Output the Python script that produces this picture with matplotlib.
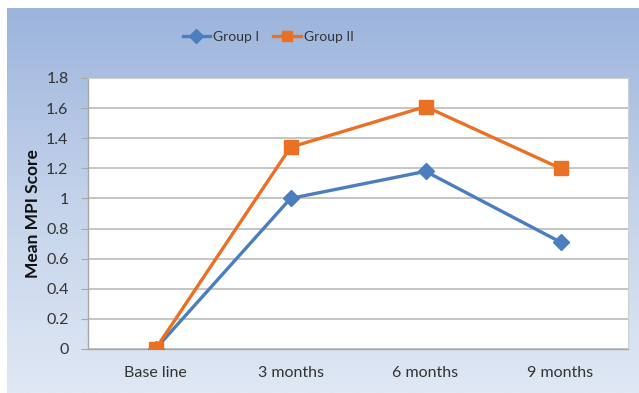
import numpy as np
import matplotlib
matplotlib.use("Agg")
import matplotlib.pyplot as plt
from matplotlib.colors import LinearSegmentedColormap
from matplotlib.ticker import FuncFormatter

# follow-up points and mean MPI score for each group
timepoints = ["Base line", "3 months", "6 months", "9 months"]
group_1 = [0, 1.0, 1.18, 0.71]
group_2 = [0, 1.34, 1.61, 1.2]
y_ticks = [0, 0.2, 0.4, 0.6, 0.8, 1, 1.2, 1.4, 1.6, 1.8]

plt.rcParams['font.family'] = ['Lato', 'DejaVu Sans']

W, H = 639, 393
fig = plt.figure(figsize=(W / 100, H / 100), dpi=100, facecolor='white')

# blue gradient panel behind the chart
bg = fig.add_axes([7 / W, 0, (W - 7) / W, (H - 8) / H], zorder=-1)
grad = np.linspace(0, 1, 256).reshape(-1, 1)
cmap = LinearSegmentedColormap.from_list('panel', ['#9cb4dc', '#c4d3eb', '#dfe8f4'])
bg.imshow(grad, aspect='auto', cmap=cmap, extent=[0, 1, 0, 1])
bg.set_axis_off()

ax = fig.add_axes([88 / W, 1 - 349 / H, (628 - 88) / W, (349 - 78) / H])
ax.set_facecolor('white')

x = np.arange(len(timepoints))
ax.plot(x, group_1, color='#4a7ebf', lw=2.4, marker='D', ms=8.5, label='Group I', zorder=3)
ax.plot(x, group_2, color='#ea7024', lw=2.4, marker='s', ms=9.5, label='Group II', zorder=3)

ax.set_xlim(-0.5, len(timepoints) - 0.5)
ax.set_ylim(0, 1.8)
ax.set_xticks(x)
ax.set_xticklabels(timepoints)
ax.set_yticks(y_ticks)
ax.yaxis.set_major_formatter(FuncFormatter(lambda v, p: '%g' % v))
ax.grid(axis='y', color='#b5b5b5', lw=1.1)
ax.set_axisbelow(True)

for side in ['top', 'right']:
    ax.spines[side].set_color('#d0d0d0')
    ax.spines[side].set_linewidth(0.8)
for side in ['left', 'bottom']:
    ax.spines[side].set_color('#a8a8a8')
    ax.spines[side].set_linewidth(1.0)

ax.tick_params(axis='y', length=5, color='#a8a8a8', labelsize=11.5, labelcolor='#333333', pad=9)
ax.tick_params(axis='x', length=0, labelsize=11.5, labelcolor='#333333', pad=12)
ax.set_ylabel('Mean MPI Score', fontsize=12.5, fontweight='bold', color='#111111', labelpad=4)

fig.legend(loc='center', bbox_to_anchor=(268 / W, 1 - 37 / H), ncol=2, frameon=False,
           fontsize=10, handlelength=2.0, columnspacing=1.0, handletextpad=0.2,
           labelcolor='#333333', markerscale=0.8)

fig.savefig('out.png', dpi=100)
